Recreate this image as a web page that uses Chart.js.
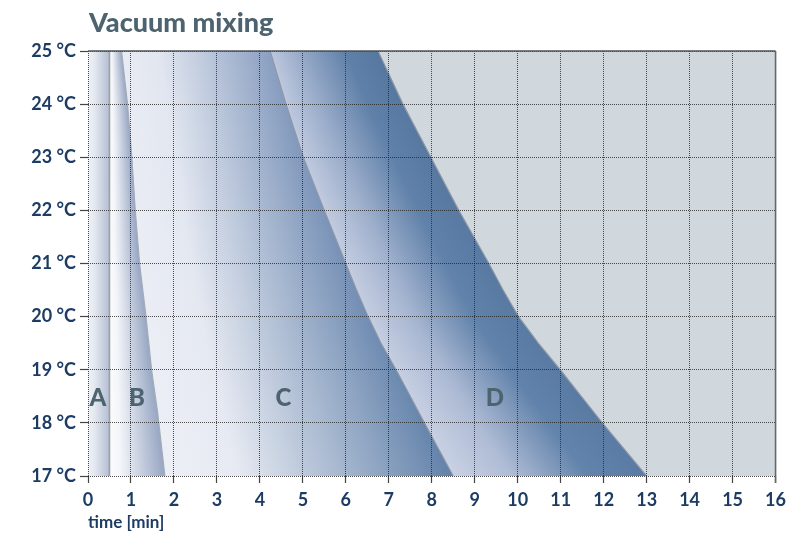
<!DOCTYPE html>
<html><head><meta charset="utf-8">
<script src="https://cdn.jsdelivr.net/npm/chart.js@4"></script>
<style>html,body{margin:0;padding:0;background:#fff}#wrap{width:792px;height:535px}</style>
</head><body><div id="wrap"><canvas id="c" width="792" height="535"></canvas></div>
<script>
// ---- data ----
const X_MIN = 0, X_MAX = 16, Y_MIN = 17, Y_MAX = 25;
const timeTicks = [0,1,2,3,4,5,6,7,8,9,10,11,12,13,14,15,16];
const tempTicks = [17,18,19,20,21,22,23,24,25];

const lineA_time = [0.5, 0.5];
const lineA_temp = [25, 17];
const lineB_time = [0.78, 0.92, 1.02, 1.1, 1.2, 1.35, 1.48, 1.62, 1.79];
const lineB_temp = [25, 24, 23, 22, 21, 20, 19, 18.2, 17];
const lineC_time = [4.24, 4.61, 5.01, 5.5, 6.0, 6.25, 6.52, 6.82, 7.17, 7.5, 7.83, 8.5];
const lineC_temp = [25, 24, 23, 22, 21, 20.5, 20, 19.5, 19, 18.5, 18, 17];
const lineD_time = [6.75, 7.33, 7.98, 8.63, 9.33, 9.66, 10.02, 10.48, 10.99, 11.48, 11.97, 13.0];
const lineD_temp = [25, 24, 23, 22, 21, 20.5, 20, 19.5, 19, 18.5, 18, 17];

const labelText = ['A', 'B', 'C', 'D'];
const labelTime = [0.23, 1.14, 4.55, 9.47];
const labelTemp = [18.47, 18.47, 18.47, 18.47];

// ---- styling ----
const lines = {
  A: {t: lineA_time, T: lineA_temp},
  B: {t: lineB_time, T: lineB_temp},
  C: {t: lineC_time, T: lineC_temp},
  D: {t: lineD_time, T: lineD_temp}
};
const bands = {
  A: {left: null, right: 'A',
      top: [[0,'#f0f2f7'],[0.3,'#e4e8f0'],[1,'#b3bed3']],
      bottom: [[0,'#f0f2f7'],[0.3,'#e4e8f0'],[1,'#b3bed3']]},
  B: {left: 'A', right: 'B',
      top: [[0,'#fbfcfd'],[0.2,'#f3f5f9'],[1,'#97a6c3']],
      bottom: [[0,'#fbfcfd'],[0.2,'#f3f5f9'],[1,'#97a6c3']]},
  C: {left: 'B', right: 'C',
      top: [[0,'#e8ebf3'],[0.25,'#e1e6f0'],[1,'#8a9fc1']],
      bottom: [[0,'#eceff5'],[0.15,'#e7eaf2'],[1,'#6282aa']]},
  D: {left: 'C', right: 'D',
      top: [[0,'#bcc7dd'],[0.3,'#93a7c6'],[0.7,'#5f80a8'],[1,'#56789f']],
      bottom: [[0,'#c9d1e3'],[0.35,'#b0bdd6'],[0.85,'#6283ab'],[1,'#5a7ba3']]}
};
const navy = '#1d3c64';
const slate = '#4d6470';

function hexRgb(h){ return [parseInt(h.substr(1,2),16), parseInt(h.substr(3,2),16), parseInt(h.substr(5,2),16)]; }
function mix(a, b, f){ const A = hexRgb(a), B = hexRgb(b); return 'rgb(' + A.map((v,i)=>Math.round(v + (B[i]-v)*f)).join(',') + ')'; }

function interpTime(line, T){
  const t = line.t, tt = line.T;
  if (T >= tt[0]) return t[0];
  for (let i = 1; i < tt.length; i++){
    if (T >= tt[i]){ const f = (tt[i-1]-T)/(tt[i-1]-tt[i]); return t[i-1] + f*(t[i]-t[i-1]); }
  }
  return t[t.length-1];
}

const cache = {};
function bandPattern(chart, key){
  const ca = chart.chartArea;
  if (!ca) return 'transparent';
  const sig = key + ca.left + ',' + ca.top + ',' + ca.right + ',' + ca.bottom;
  if (cache[key] && cache[key].sig === sig) return cache[key].pat;
  const xs = chart.scales.x, ys = chart.scales.y;
  const band = bands[key];
  const cv = document.createElement('canvas');
  cv.width = chart.width; cv.height = chart.height;
  const g = cv.getContext('2d');
  const h = ca.bottom - ca.top;
  for (let y = Math.floor(ca.top) - 1; y < Math.ceil(ca.bottom) + 1; y++){
    const T = ys.getValueForPixel(y + 0.5);
    const xl = band.left ? xs.getPixelForValue(interpTime(lines[band.left], T)) : ca.left;
    const xr = xs.getPixelForValue(interpTime(lines[band.right], T));
    const rf = Math.min(1, Math.max(0, (y - ca.top) / h));
    const grad = g.createLinearGradient(xl, 0, Math.max(xr, xl + 1), 0);
    band.top.forEach((s, i) => grad.addColorStop(s[0], mix(s[1], band.bottom[i][1], rf)));
    g.fillStyle = grad;
    g.fillRect(ca.left - 2, y, ca.right - ca.left + 4, 1);
  }
  const pat = chart.ctx.createPattern(cv, 'no-repeat');
  cache[key] = {sig, pat};
  return pat;
}

function regionData(line){
  const pts = [{x: X_MIN, y: Y_MAX}];
  line.t.forEach((t, i) => pts.push({x: t, y: line.T[i]}));
  return pts;
}
function lineData(line){
  return line.t.map((t, i) => ({x: t, y: line.T[i]}));
}
function fillDataset(key){
  return {
    data: regionData(lines[key]),
    fill: 'start',
    backgroundColor: ctx => bandPattern(ctx.chart, key),
    borderWidth: 0,
    borderColor: 'rgba(0,0,0,0)',
    pointRadius: 0,
    tension: 0
  };
}
function strokeDataset(key, stroke, width){
  return {
    data: lineData(lines[key]),
    fill: false,
    borderColor: stroke,
    borderWidth: width,
    pointRadius: 0,
    tension: 0
  };
}

const bgPlugin = {
  id: 'bg',
  beforeDatasetsDraw(chart){
    const {ctx, chartArea: a} = chart;
    ctx.save(); ctx.fillStyle = '#d0d8de';
    ctx.fillRect(a.left, a.top, a.right - a.left, a.bottom - a.top);
    ctx.restore();
  },
  afterDraw(chart){
    const {ctx, chartArea: a} = chart;
    ctx.save();
    ctx.strokeStyle = '#4f5458'; ctx.lineWidth = 1.6;
    ctx.beginPath(); ctx.moveTo(a.left, a.top); ctx.lineTo(a.right, a.top); ctx.stroke();
    ctx.strokeStyle = '#62676c';
    ctx.beginPath(); ctx.moveTo(a.right, a.top); ctx.lineTo(a.right, a.bottom + 7); ctx.stroke();
    // title
    ctx.fillStyle = slate; ctx.font = '900 27px Lato'; ctx.textBaseline = 'middle'; ctx.textAlign = 'left';
    ctx.fillText('Vacuum mixing', a.left + 1, 23);
    // region labels
    ctx.font = '900 24px Lato'; ctx.textAlign = 'center';
    labelText.forEach((s, i) => {
      ctx.fillText(s, chart.scales.x.getPixelForValue(labelTime[i]), chart.scales.y.getPixelForValue(labelTemp[i]));
    });
    ctx.restore();
  }
};

const gridStyle = {z: 1, color: 'rgba(35,35,35,0.8)', lineWidth: 1, tickColor: '#444', tickWidth: 1.2, tickBorderDash: []};

new Chart(document.getElementById('c'), {
  type: 'line',
  data: {datasets: [
    strokeDataset('A', '#9c9fa4', 1.6),
    fillDataset('A'),
    strokeDataset('B', '#a4abb8', 1.2),
    fillDataset('B'),
    strokeDataset('C', '#8f98a8', 1.2),
    fillDataset('C'),
    strokeDataset('D', '#8f98a8', 1.2),
    fillDataset('D')
  ]},
  plugins: [bgPlugin],
  options: {
    responsive: false, animation: false, devicePixelRatio: 1,
    layout: {padding: {top: 51, right: 14, left: 0, bottom: 0}},
    plugins: {legend: {display: false}, tooltip: {enabled: false}, title: {display: false}},
    scales: {
      x: {
        type: 'linear', min: X_MIN, max: X_MAX, z: 1,
        afterBuildTicks: s => { s.ticks = timeTicks.map(v => ({value: v})); },
        ticks: {color: navy, font: {family: 'Lato', weight: 'bold', size: 18}, padding: 6, maxRotation: 0, autoSkip: false},
        grid: Object.assign({tickLength: 7}, gridStyle),
        border: {display: false, dash: [1, 1]},
        title: {display: true, text: 'time [min]', align: 'start', color: navy, font: {family: 'Lato', weight: 'bold', size: 17}, padding: {top: 2, bottom: 2}},
        afterFit: s => { s.height = 59; }
      },
      y: {
        type: 'linear', min: Y_MIN, max: Y_MAX, z: 1,
        afterBuildTicks: s => { s.ticks = tempTicks.map(v => ({value: v})); },
        ticks: {color: navy, font: {family: 'Lato', weight: 'bold', size: 18}, padding: 4, callback: v => v + ' °C'},
        grid: Object.assign({tickLength: 8}, gridStyle),
        border: {display: false, dash: [1, 1]},
        afterFit: s => { s.width = 88; }
      }
    }
  }
});
</script>
</body></html>
